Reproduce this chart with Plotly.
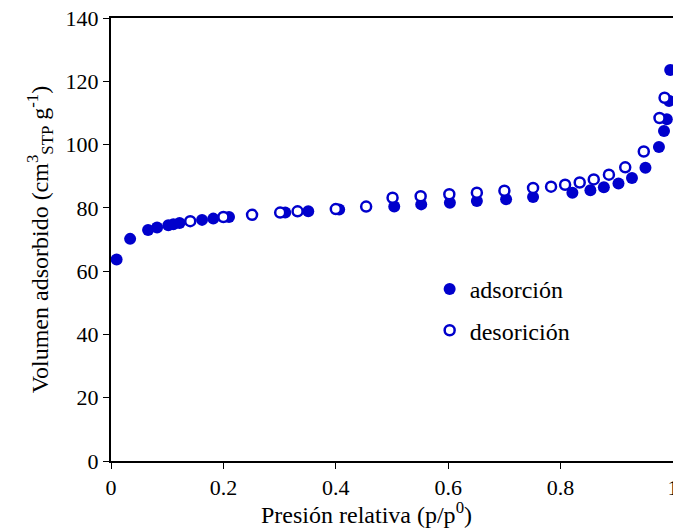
import plotly.graph_objects as go

# Adsorption branch (filled circles)
ads_p = [0.010, 0.034, 0.066, 0.082, 0.102, 0.111, 0.122, 0.162, 0.182, 0.210,
         0.310, 0.351, 0.406, 0.504, 0.552, 0.603, 0.651, 0.703, 0.751, 0.821,
         0.853, 0.877, 0.903, 0.927, 0.951, 0.975, 0.984, 0.989, 0.993, 0.995]
ads_v = [63.7, 70.2, 73.0, 73.8, 74.5, 74.8, 75.2, 76.2, 76.6, 77.1,
         78.5, 78.9, 79.5, 80.4, 81.1, 81.6, 82.2, 82.7, 83.4, 84.8,
         85.6, 86.5, 87.7, 89.4, 92.7, 99.2, 104.3, 108.0, 113.8, 123.6]

# Desorption branch (open circles)
des_p = [0.985, 0.976, 0.948, 0.915, 0.886, 0.859, 0.834, 0.808, 0.783, 0.751,
         0.700, 0.651, 0.602, 0.551, 0.501, 0.454, 0.400, 0.332, 0.301, 0.251,
         0.200, 0.141]
des_v = [114.8, 108.4, 97.8, 92.8, 90.5, 89.0, 88.0, 87.3, 86.7, 86.3,
         85.4, 84.8, 84.3, 83.7, 83.2, 80.4, 79.6, 78.9, 78.5, 77.8,
         77.1, 75.8]

x_ticks = [0, 0.2, 0.4, 0.6, 0.8, 1]
x_tick_text = ["0", "0.2", "0.4", "0.6", "0.8", "1"]
y_ticks = [0, 20, 40, 60, 80, 100, 120, 140]

x_title = "Presión relativa (p/p<sup>0</sup>)"
y_title = "Volumen adsorbido (cm<sup>3</sup><sub>STP</sub> g<sup>-1</sup>)"

blue = "#0000CC"
font_family = "Times New Roman, Liberation Serif, serif"

fig = go.Figure()
fig.add_trace(go.Scatter(
    x=ads_p, y=ads_v, mode="markers", name="adsorción", legendgroup="a",
    marker=dict(symbol="circle", size=12, color=blue, line=dict(width=0)),
))
fig.add_trace(go.Scatter(
    x=des_p, y=des_v, mode="markers", name="desorición", legendgroup="d",
    marker=dict(symbol="circle", size=10, color="white", line=dict(width=2.5, color=blue)),
))

fig.update_layout(
    width=673, height=531,
    margin=dict(l=111, r=0, t=18, b=70, autoexpand=False),
    paper_bgcolor="white", plot_bgcolor="white",
    font=dict(family=font_family, size=22, color="black"),
    showlegend=True,
    legend=dict(x=0.567, y=0.438, xanchor="left", yanchor="top",
                bgcolor="rgba(0,0,0,0)", font=dict(size=24),
                tracegroupgap=7, itemwidth=30),
    xaxis=dict(
        range=[0, 1], tickvals=x_ticks, ticktext=x_tick_text,
        showgrid=False, zeroline=False, automargin=False,
        showline=True, linecolor="black", linewidth=2, mirror=True,
        ticks="outside", ticklen=6, tickwidth=1, tickcolor="black",
        ticklabeloverflow="allow",
    ),
    yaxis=dict(
        range=[0, 140], tickvals=y_ticks,
        showgrid=False, zeroline=False, automargin=False,
        showline=True, linecolor="black", linewidth=2, mirror=True,
        ticks="outside", ticklen=6, tickwidth=1, tickcolor="black",
        title=dict(text=y_title, font=dict(size=24), standoff=10),
    ),
    annotations=[dict(
        text=x_title, xref="paper", yref="paper", x=0.455, y=-0.118,
        xanchor="center", yanchor="middle", showarrow=False,
        font=dict(size=24),
    )],
)

fig.write_html(
    "out.html",
    config={"displayModeBar": False},
    post_script="document.body.style.margin='0';document.body.style.overflow='hidden';",
)
